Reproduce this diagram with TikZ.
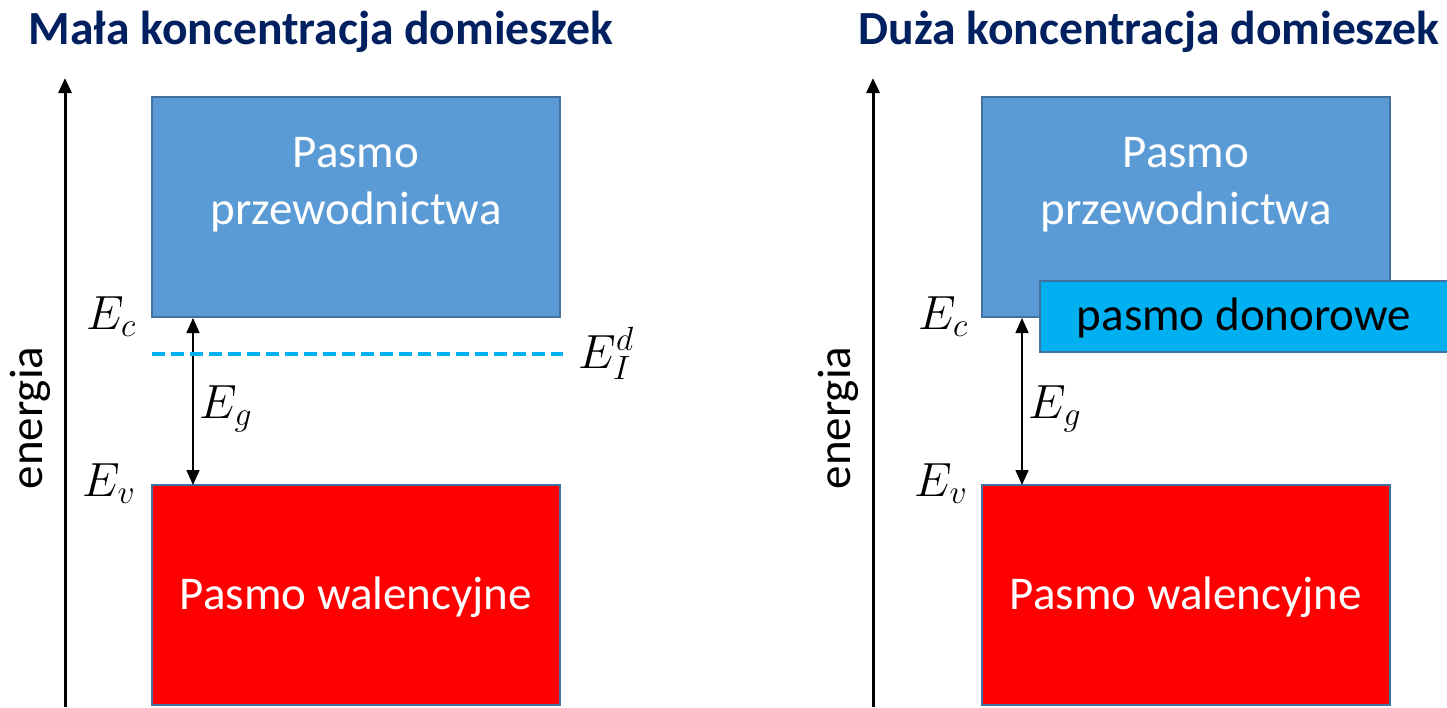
\documentclass[tikz,border=0pt]{standalone}
\usepackage{fix-cm}
\usepackage{fontspec}
\setmainfont{Carlito}
\usetikzlibrary{arrows.meta,calc}
\definecolor{navy}{HTML}{002060}
\definecolor{cbblue}{HTML}{5B9BD5}
\definecolor{edgeblue}{HTML}{41719C}
\definecolor{donorblue}{HTML}{00B0F0}
\begin{document}
\begin{tikzpicture}[x=1pt,y=-1pt,
  every node/.style={font=\fontsize{47}{57}\selectfont, inner sep=0pt},
  band/.style={draw=edgeblue, line width=1.5pt, inner sep=0pt},
  cband/.style={band, fill=cbblue, minimum width=408, minimum height=220},
  vband/.style={band, fill=red, minimum width=408, minimum height=220},
  bandtext/.style={white, align=center},
  title/.style={text=navy, font=\fontsize{47.6}{57}\selectfont\bfseries, anchor=base},
  axis/.style={line width=3pt, -{Triangle[width=13pt,length=15pt]}},
  gap/.style={line width=1.6pt, {Triangle[width=13pt,length=15pt]}-{Triangle[width=13pt,length=15pt]}},
  lvl/.style={font=\fontsize{48}{57}\selectfont, anchor=base},
  imp/.style={donorblue, line width=3.5pt, dash pattern=on 13pt off 6pt}
]
\useasboundingbox (0,0) rectangle (1447,707);

% ---------- left panel ----------
\node[title] (t1) at (321,44) {Mała koncentracja domieszek};
\coordinate (a1b) at (65,707);
\coordinate (a1t) at (65,78);
\draw[axis] (a1b) -- (a1t);
\node[rotate=90] (en1) at (30,418) {energia};

\node[cband] (cb1) at (356,207) {};
\node[bandtext] (cbt1) at (356,185) {Pasmo\\przewodnictwa};
\node[vband] (vb1) at (356,595) {};
\node[bandtext] (vbt1) at (356,597) {Pasmo walencyjne};

\coordinate (g1t) at (193,318);
\coordinate (g1b) at (193,485);
\draw[gap] (g1t) -- (g1b);

\coordinate (d1l) at (152,354);
\coordinate (d1r) at (563,354);
\draw[imp] (d1l) -- (d1r);

\node[lvl] (ec1) at (111,329) {$E_c$};
\node[lvl] (ev1) at (109,496) {$E_v$};
\node[lvl] (eg1) at (226,418) {$E_g$};
\node[lvl] (ei1) at (606,368) {$E_I^d$};

% ---------- right panel ----------
\node[title] (t2) at (1149,44) {Duża koncentracja domieszek};
\coordinate (a2b) at (873,707);
\coordinate (a2t) at (873,78);
\draw[axis] (a2b) -- (a2t);
\node[rotate=90] (en2) at (838,418) {energia};

\node[cband] (cb2) at (1186,207) {};
\node[bandtext] (cbt2) at (1186,185) {Pasmo\\przewodnictwa};
\node[band, fill=donorblue, minimum width=408, minimum height=71] (db2) at (1244,316.5) {};
\node (dbt2) at (1244,318) {pasmo donorowe};
\node[vband] (vb2) at (1186,595) {};
\node[bandtext] (vbt2) at (1186,597) {Pasmo walencyjne};

\coordinate (g2t) at (1022,318);
\coordinate (g2b) at (1022,485);
\draw[gap] (g2t) -- (g2b);

\node[lvl] (ec2) at (943,329) {$E_c$};
\node[lvl] (ev2) at (941,496) {$E_v$};
\node[lvl] (eg2) at (1055,418) {$E_g$};
\end{tikzpicture}
\end{document}
